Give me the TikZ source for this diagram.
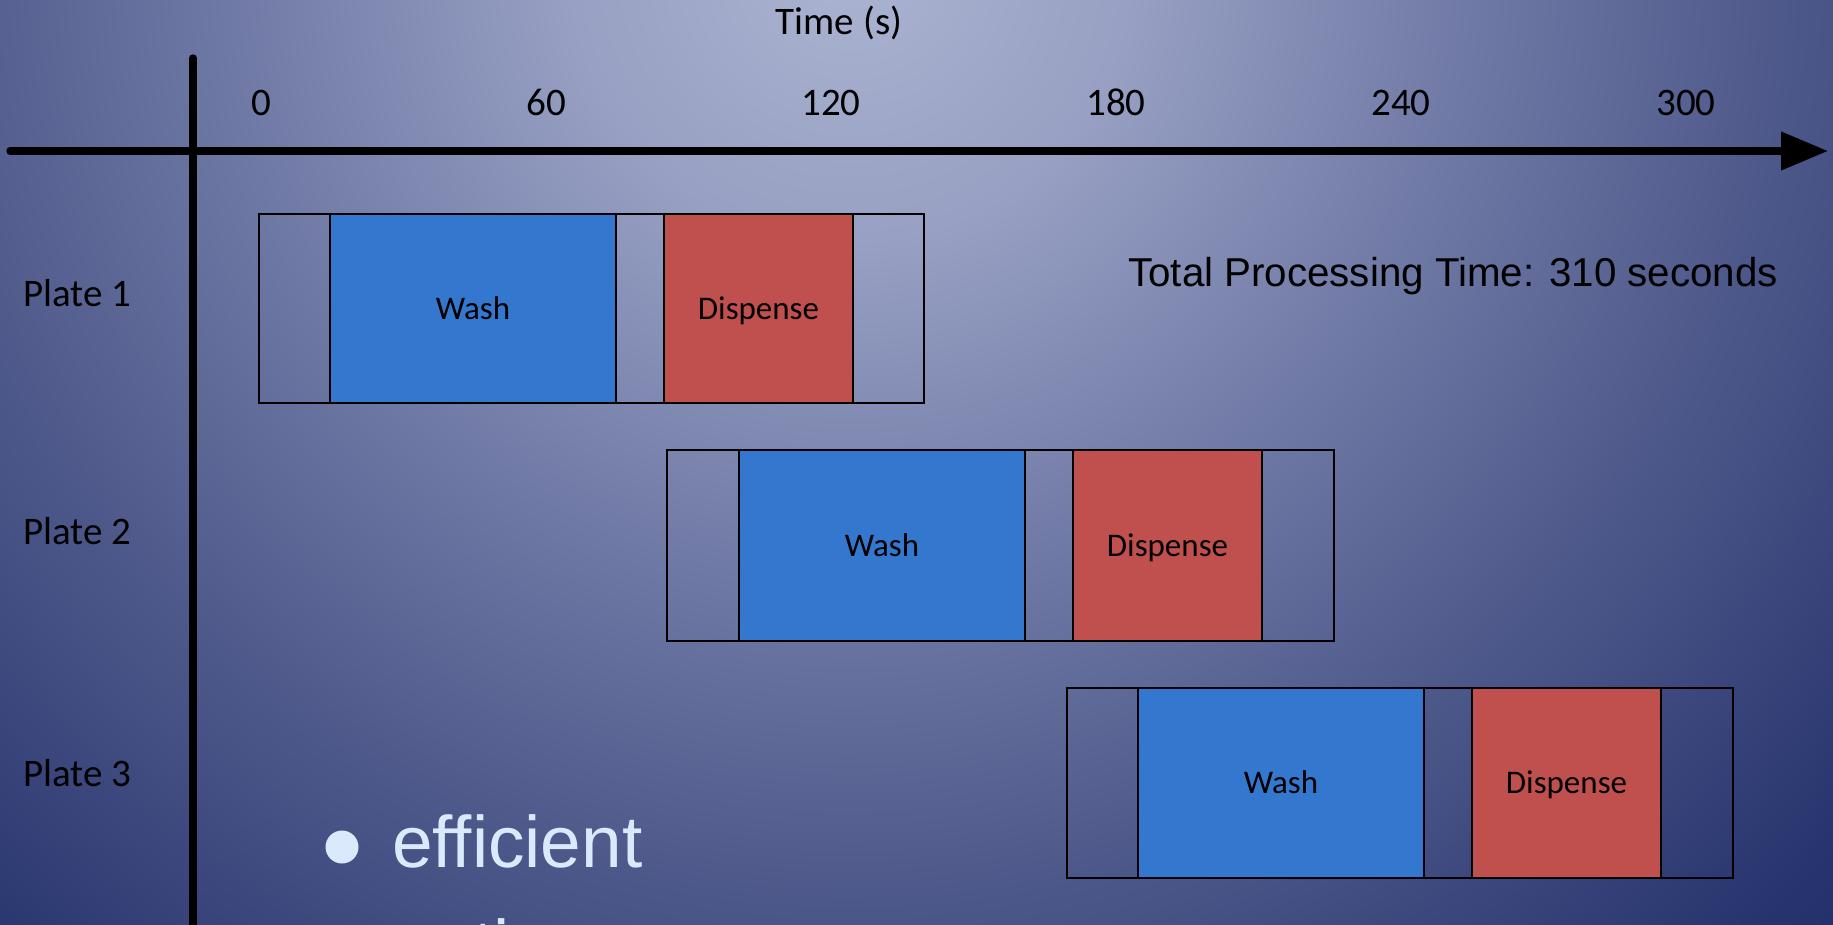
\documentclass[tikz,border=0pt]{standalone}
\usepackage{fontspec}
\setmainfont{Carlito}
\newfontfamily\arialfont{Liberation Sans}
\usetikzlibrary{arrows.meta}

\definecolor{washblue}{RGB}{52,119,206}
\definecolor{dispred}{RGB}{192,80,77}
\definecolor{bullettext}{RGB}{218,234,252}
\definecolor{bgA}{RGB}{172,180,210}
\definecolor{bgB}{RGB}{152,160,195}
\definecolor{bgC}{RGB}{115,125,168}
\definecolor{bgD}{RGB}{76,87,137}
\definecolor{bgE}{RGB}{40,52,110}
\definecolor{bgF}{RGB}{33,45,102}
\pgfdeclareradialshading{slidebg}{\pgfpoint{0bp}{0bp}}{%
  color(0bp)=(bgA); color(5bp)=(bgB); color(10.5bp)=(bgC);
  color(17bp)=(bgD); color(23.5bp)=(bgE); color(26bp)=(bgF); color(50bp)=(bgF)}

\tikzset{
  axisline/.style={line width=7.3pt, line cap=round},
  seg/.style={draw=black, line width=2.5pt},
  ticklabel/.style={inner sep=0pt, anchor=base, font=\fontsize{39}{47}\selectfont},
  platelabel/.style={inner sep=0pt, anchor=base west, font=\fontsize{39}{47}\selectfont},
  steplabel/.style={inner sep=0pt, anchor=base, font=\fontsize{33}{40}\selectfont},
  bullettxt/.style={inner sep=0pt, anchor=base west, text=bullettext,
    font=\arialfont\fontsize{73}{88}\selectfont}
}

\begin{document}
\begin{tikzpicture}[x=1pt, y=-1pt]
	\useasboundingbox (0,0) rectangle (1833,925);
	\clip (0,0) rectangle (1833,925);
	\shade[shading=slidebg] (850,-40) circle (1400pt);  % slide background

	% axes
	\coordinate (xstart) at (10,151);
	\coordinate (xend) at (1828,151);
	\coordinate (ystart) at (193,58);
	\coordinate (yend) at (193,935);
	\draw[axisline, -{Triangle[length=47pt, width=37pt]}] (xstart) -- (xend);
	\draw[axisline] (ystart) -- (yend);

	\node[inner sep=0pt, anchor=base, font=\fontsize{39}{47}\selectfont] (tlabel) at (839,35) {Time (s)};
	\node[ticklabel] (t0) at (261,116) {0};
	\node[ticklabel] (t60) at (546,116) {60};
	\node[ticklabel] (t120) at (831,116) {120};
	\node[ticklabel] (t180) at (1116,116) {180};
	\node[ticklabel] (t240) at (1401,116) {240};
	\node[ticklabel] (t300) at (1686,116) {300};

	\node[platelabel] (p1) at (23,306) {Plate 1};
	\node[platelabel] (p2) at (23,544) {Plate 2};
	\node[platelabel] (p3) at (23,786) {Plate 3};

	% plate 1
	\draw[seg] (259,214) rectangle (924,403);
	\draw[seg, fill=washblue] (330,214) rectangle (616,403);
	\draw[seg, fill=dispred] (664,214) rectangle (853,403);
	\node[steplabel] (wash1) at (473,319) {Wash};
	\node[steplabel] (disp1) at (758.5,319) {Dispense};

	% plate 2
	\draw[seg] (667,450) rectangle (1334,641);
	\draw[seg, fill=washblue] (739,450) rectangle (1025,641);
	\draw[seg, fill=dispred] (1073,450) rectangle (1262,641);
	\node[steplabel] (wash2) at (882,556) {Wash};
	\node[steplabel] (disp2) at (1167.5,556) {Dispense};

	% plate 3
	\draw[seg] (1067,688) rectangle (1733,878);
	\draw[seg, fill=washblue] (1138,688) rectangle (1424,878);
	\draw[seg, fill=dispred] (1472,688) rectangle (1661,878);
	\node[steplabel] (wash3) at (1281,793) {Wash};
	\node[steplabel] (disp3) at (1566.5,793) {Dispense};

	\node[inner sep=0pt, anchor=base west, font=\arialfont\fontsize{40.3}{48}\selectfont] (total) at (1128,287) {Total Processing Time: 310 seconds};

	% bullet text
	\node[circle, fill=bullettext, minimum size=33pt, inner sep=0pt] (dot) at (342,847) {};
	\node[bullettxt] (eff) at (392,867) {efficient};
	\node[bullettxt] (opt) at (392,971) {options};
\end{tikzpicture}
\end{document}
